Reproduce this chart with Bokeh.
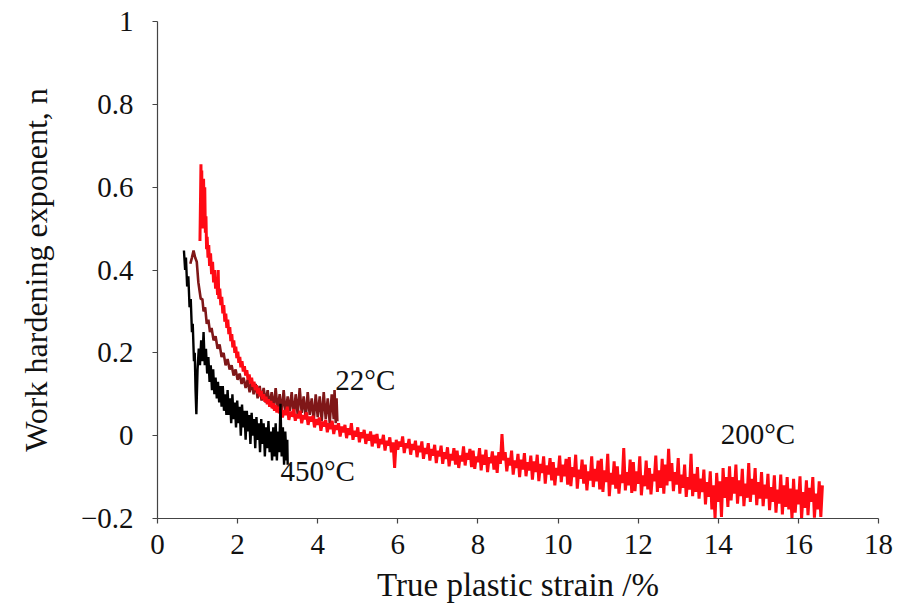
import numpy as np
from bokeh.plotting import figure
from bokeh.models import Range1d, FixedTicker
from bokeh.core.properties import value
from bokeh.embed import file_html
from bokeh.resources import INLINE

# ---------------- data ----------------
x_ticks = [0, 2, 4, 6, 8, 10, 12, 14, 16, 18]
y_ticks = [-0.2, 0, 0.2, 0.4, 0.6, 0.8, 1]
y_tick_labels = ["\u22120.2", "0", "0.2", "0.4", "0.6", "0.8", "1"]

# 450 C (black)
t450_x = [0.66, 0.69, 0.71, 0.74, 0.77, 0.80, 0.83, 0.86, 0.88, 0.91, 0.93, 0.95, 0.97,
          1.00, 1.03, 1.06, 1.09, 1.12, 1.15, 1.18, 1.21, 1.24, 1.27, 1.30, 1.33, 1.36,
          1.39, 1.42, 1.45, 1.48, 1.51, 1.54, 1.57, 1.60, 1.63, 1.66, 1.69, 1.72, 1.75,
          1.78, 1.81, 1.84, 1.87, 1.90, 1.93, 1.96, 1.99, 2.02, 2.05, 2.08, 2.11, 2.14,
          2.17, 2.20, 2.23, 2.26, 2.29, 2.32, 2.35, 2.38, 2.41, 2.44, 2.47, 2.50, 2.53,
          2.56, 2.59, 2.62, 2.65, 2.68, 2.71, 2.74, 2.77, 2.80, 2.83, 2.86, 2.89, 2.92,
          2.95, 2.98, 3.01, 3.04, 3.07, 3.10, 3.13, 3.16, 3.19, 3.22, 3.24, 3.25]
t450_y = [0.447, 0.40, 0.43, 0.36, 0.385, 0.31, 0.33, 0.25, 0.27, 0.18, 0.20, 0.11, 0.052,
          0.16, 0.21, 0.17, 0.23, 0.18, 0.25, 0.17, 0.21, 0.15, 0.19, 0.13, 0.17, 0.11,
          0.16, 0.10, 0.14, 0.09, 0.13, 0.08, 0.12, 0.07, 0.12, 0.06, 0.10, 0.05, 0.11,
          0.05, 0.09, 0.03, 0.10, 0.04, 0.08, 0.02, 0.085, 0.03, 0.07, 0.00, 0.075, 0.02,
          0.06, -0.01, 0.06, 0.01, 0.05, -0.02, 0.055, 0.00, 0.04, -0.03, 0.045, -0.01, 0.03,
          -0.04, 0.04, -0.02, 0.03, -0.05, 0.02, -0.03, 0.035, -0.04, 0.01, -0.06, 0.02, -0.05,
          0.03, -0.06, 0.01, -0.04, 0.077, -0.05, 0.02, -0.07, 0.01, -0.06, -0.01, -0.07]

# 22 C (dark red)
t22_x = [0.82, 0.86, 0.90, 0.94, 0.98, 1.02, 1.05, 1.08, 1.12, 1.15, 1.19, 1.23, 1.27,
         1.31, 1.35, 1.40, 1.45, 1.50, 1.55, 1.60, 1.65, 1.70, 1.75, 1.80, 1.85, 1.90,
         1.95, 2.00, 2.05, 2.10, 2.15, 2.20, 2.25, 2.30, 2.35, 2.40, 2.45, 2.50, 2.55,
         2.60, 2.65, 2.70, 2.75, 2.80, 2.85, 2.90, 2.95, 3.00, 3.05, 3.10, 3.15, 3.20,
         3.25, 3.30, 3.35, 3.40, 3.45, 3.50, 3.55, 3.60, 3.65, 3.70, 3.75, 3.80, 3.85,
         3.90, 3.95, 4.00, 4.05, 4.10, 4.15, 4.20, 4.25, 4.30, 4.35, 4.40, 4.42, 4.45,
         4.47, 4.49]
t22_y = [0.415, 0.43, 0.447, 0.43, 0.42, 0.37, 0.35, 0.33, 0.33, 0.30, 0.31, 0.27, 0.28,
         0.25, 0.26, 0.23, 0.24, 0.21, 0.22, 0.19, 0.20, 0.17, 0.185, 0.16, 0.17, 0.145,
         0.16, 0.135, 0.15, 0.125, 0.14, 0.115, 0.135, 0.105, 0.13, 0.10, 0.125, 0.09, 0.12,
         0.085, 0.115, 0.08, 0.11, 0.07, 0.105, 0.065, 0.115, 0.06, 0.10, 0.055, 0.11, 0.05,
         0.095, 0.06, 0.105, 0.045, 0.10, 0.05, 0.115, 0.055, 0.095, 0.04, 0.105, 0.05, 0.09,
         0.035, 0.10, 0.045, 0.095, 0.035, 0.105, 0.04, 0.09, 0.03, 0.10, 0.04, 0.11, 0.03,
         0.09, 0.035]

# 200 C (red) - steep start
t200a_x = [1.060, 1.075, 1.085, 1.095, 1.105, 1.115, 1.125, 1.135, 1.150, 1.165, 1.180,
           1.195, 1.210, 1.225, 1.240, 1.260, 1.280, 1.300, 1.325, 1.350, 1.375, 1.400,
           1.425, 1.450, 1.475, 1.500, 1.515, 1.530, 1.555, 1.580, 1.605, 1.630, 1.655,
           1.680, 1.705, 1.730, 1.755, 1.780, 1.805, 1.830, 1.855, 1.880, 1.905, 1.930,
           1.955, 1.980, 2.005, 2.030, 2.055, 2.080, 2.110, 2.140, 2.170, 2.200, 2.230,
           2.260, 2.290, 2.320, 2.350, 2.380, 2.410, 2.440, 2.470, 2.500, 2.530, 2.560,
           2.590, 2.620, 2.650, 2.680, 2.710, 2.740, 2.770, 2.800, 2.830, 2.860, 2.890,
           2.920, 2.950, 2.980, 3.010, 3.040]
t200a_y = [0.47, 0.58, 0.655, 0.56, 0.64, 0.52, 0.60, 0.50, 0.62, 0.54, 0.60,
           0.49, 0.53, 0.45, 0.48, 0.43, 0.46, 0.41, 0.44, 0.39, 0.42, 0.37,
           0.40, 0.355, 0.38, 0.34, 0.40, 0.33, 0.355, 0.315, 0.335, 0.295, 0.315,
           0.275, 0.295, 0.26, 0.28, 0.245, 0.262, 0.228, 0.245, 0.213, 0.23, 0.20,
           0.215, 0.187, 0.203, 0.176, 0.19, 0.165, 0.18, 0.155, 0.168, 0.145, 0.158,
           0.135, 0.148, 0.126, 0.14, 0.118, 0.13, 0.11, 0.122, 0.102, 0.115, 0.095,
           0.108, 0.088, 0.10, 0.082, 0.094, 0.076, 0.088, 0.07, 0.084, 0.066, 0.078,
           0.06, 0.074, 0.056, 0.07, 0.054]
# 200 C (red) - long noisy tail, evenly sampled from x = 3.08 to 16.6
t200b_start, t200b_end = 3.08, 16.6
t200b_y = [
    0.068, 0.044, 0.062, 0.050, 0.070, 0.038, 0.058, 0.046, 0.064, 0.036, 0.052, 0.042, 0.060, 0.030, 0.050, 0.040, 0.056, 0.026, 0.046, 0.034,
    0.048, 0.020, 0.040, 0.026, 0.044, 0.012, 0.034, 0.022, 0.038, 0.008, 0.030, 0.016, 0.036, 0.004, 0.026, 0.014, 0.030, -0.002, 0.022, 0.008,
    0.026, -0.006, 0.018, 0.002, 0.030, -0.010, 0.012, -0.002, 0.020, -0.016, 0.008, -0.006, 0.014, -0.020, 0.004, -0.012, 0.010, -0.026, 0.002, -0.018,
    0.004, -0.030, -0.008, -0.020, 0.002, -0.036, -0.012, -0.024, -0.004, -0.040, -0.016, -0.078, -0.010, -0.034, -0.014, -0.026, -0.002, -0.042, -0.018, -0.030,
    -0.008, -0.046, -0.020, -0.034, -0.012, -0.052, -0.024, -0.040, -0.014, -0.056, -0.030, -0.044, -0.018, -0.060, -0.032, -0.048, -0.022, -0.066, -0.036, -0.050,
    -0.024, -0.068, -0.040, -0.056, -0.028, -0.074, -0.044, -0.060, -0.030, -0.070, -0.036, -0.078, -0.048, -0.062, -0.026, -0.072, -0.042, -0.058, -0.032, -0.076,
    -0.036, -0.080, -0.050, -0.064, -0.030, -0.084, -0.046, -0.070, -0.034, -0.088, -0.052, -0.066, -0.038, -0.082, -0.048, -0.090, -0.040, -0.068, 0.004, -0.060,
    -0.040, -0.086, -0.054, -0.072, -0.036, -0.094, -0.060, -0.078, -0.044, -0.100, -0.058, -0.082, -0.042, -0.098, -0.064, -0.084, -0.048, -0.106, -0.062, -0.088,
    -0.046, -0.110, -0.068, -0.090, -0.050, -0.116, -0.072, -0.094, -0.054, -0.108, -0.064, -0.120, -0.078, -0.096, -0.048, -0.112, -0.070, -0.098, -0.056, -0.118,
    -0.052, -0.122, -0.076, -0.100, -0.046, -0.128, -0.082, -0.104, -0.058, -0.116, -0.070, -0.132, -0.086, -0.108, -0.050, -0.124, -0.080, -0.110, -0.060, -0.130,
    -0.056, -0.136, -0.084, -0.112, -0.044, -0.146, -0.090, -0.118, -0.062, -0.128, -0.074, -0.140, -0.094, -0.114, -0.030, -0.132, -0.088, -0.120, -0.058, -0.138,
    -0.064, -0.134, -0.086, -0.116, -0.050, -0.144, -0.096, -0.122, -0.060, -0.130, -0.078, -0.142, -0.092, -0.110, -0.048, -0.136, -0.084, -0.126, -0.056, -0.140,
    -0.070, -0.120, -0.032, -0.110, -0.066, -0.134, -0.088, -0.118, -0.054, -0.140, -0.094, -0.126, -0.070, -0.148, -0.100, -0.130, -0.044, -0.146, -0.092, -0.136,
    -0.076, -0.152, -0.104, -0.136, -0.082, -0.166, -0.112, -0.148, -0.086, -0.178, -0.120, -0.200, -0.090, -0.160, -0.110, -0.196, -0.078, -0.150, -0.100, -0.172,
    -0.074, -0.156, -0.100, -0.140, -0.070, -0.164, -0.108, -0.146, -0.080, -0.170, -0.116, -0.150, -0.066, -0.160, -0.104, -0.142, -0.078, -0.168, -0.112, -0.152,
    -0.088, -0.170, -0.118, -0.152, -0.092, -0.180, -0.124, -0.160, -0.096, -0.186, -0.130, -0.164, -0.094, -0.190, -0.120, -0.172, -0.100, -0.178, -0.128, -0.200,
    -0.104, -0.186, -0.130, -0.166, -0.098, -0.200, -0.136, -0.174, -0.108, -0.192, -0.126, -0.160, -0.100, -0.198, -0.140, -0.178, -0.110, -0.196, -0.120,
]
t200b_x = list(np.linspace(t200b_start, t200b_end, len(t200b_y)))

curve_labels = ["22\u00b0C", "450\u00b0C", "200\u00b0C"]
curve_label_x = [4.44, 3.07, 14.06]
curve_label_y = [0.135, -0.085, 0.004]

x_title = "True plastic strain /%"
y_title = "Work hardening exponent, n"

# ---------------- figure ----------------
FONT = "Liberation Serif"
p = figure(width=906, height=609, output_backend="svg", toolbar_location=None,
           x_range=Range1d(0, 18), y_range=Range1d(-0.2, 1),
           min_border_left=157, min_border_right=28, min_border_top=21, min_border_bottom=91)
p.outline_line_color = None
p.xgrid.visible = False
p.ygrid.visible = False
p.background_fill_color = "white"
p.border_fill_color = "white"

for ax in (p.xaxis[0], p.yaxis[0]):
    ax.axis_line_color = "#444444"
    ax.axis_line_width = 1.2
    ax.major_tick_line_color = "#444444"
    ax.major_tick_line_width = 1.2
    ax.major_tick_out = 5
    ax.major_tick_in = 0
    ax.minor_tick_line_color = None
    ax.major_label_text_font = FONT
    ax.major_label_text_font_size = "29px"
    ax.major_label_text_color = "#111111"
    ax.axis_label_text_font = FONT
    ax.axis_label_text_font_style = "normal"
    ax.axis_label_text_color = "#111111"

p.xaxis.ticker = FixedTicker(ticks=x_ticks)
p.yaxis.ticker = FixedTicker(ticks=y_ticks)
p.yaxis.major_label_overrides = {t: s for t, s in zip(y_ticks, y_tick_labels)}
p.xaxis.major_label_standoff = 11
p.yaxis.major_label_standoff = 19
p.xaxis.axis_label = x_title
p.xaxis.axis_label_text_font_size = "33px"
p.xaxis.axis_label_standoff = 10
p.yaxis.axis_label = y_title
p.yaxis.axis_label_text_font_size = "32px"
p.yaxis.axis_label_standoff = 24

p.line(t22_x, t22_y, line_color="#7f1718", line_width=2.6)
p.line(t200a_x + t200b_x, t200a_y + t200b_y, line_color="#ff0a14", line_width=3.0)
p.line(t450_x, t450_y, line_color="#000000", line_width=2.4)

p.text(x=curve_label_x, y=curve_label_y, text=curve_labels,
       text_font=value(FONT), text_font_size="29px", text_color="#111111",
       text_align="left", text_baseline="alphabetic")

open("out.html", "w").write(file_html(p, INLINE))
